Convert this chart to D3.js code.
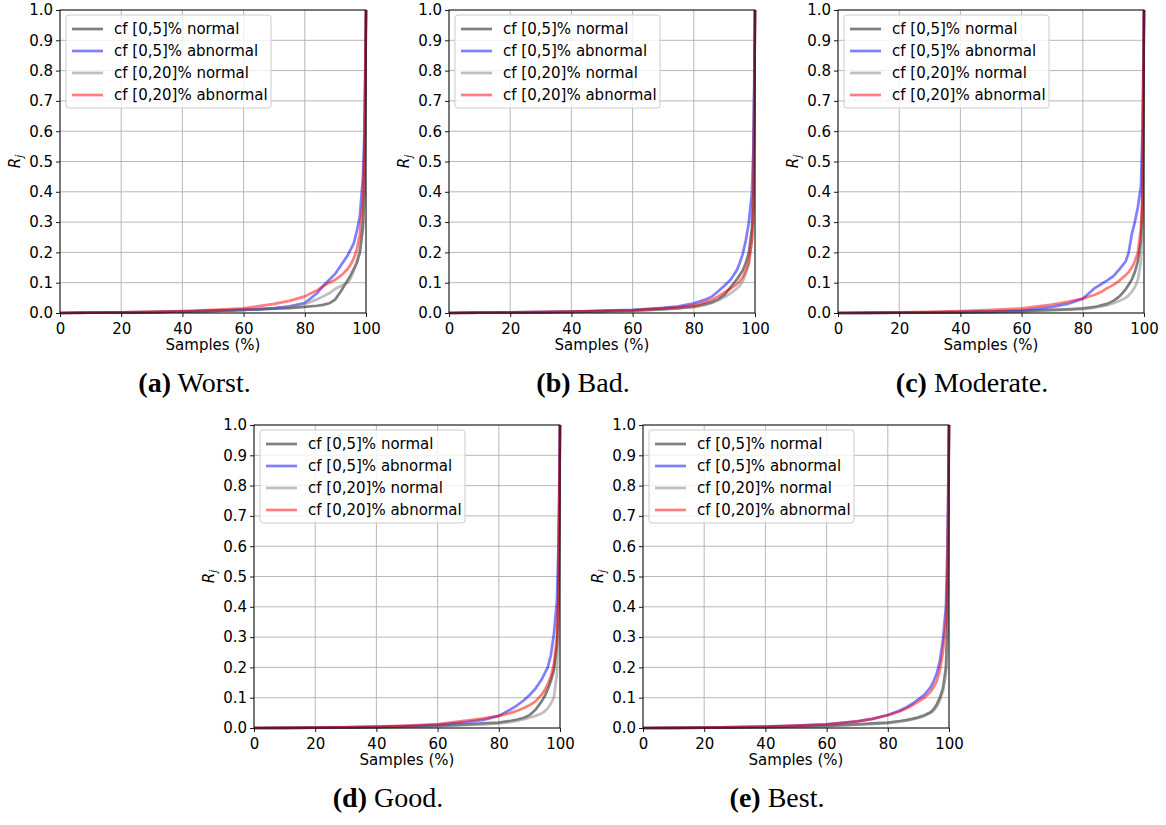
<!DOCTYPE html>
<html>
<head>
<meta charset="utf-8">
<script src="https://cdn.jsdelivr.net/npm/d3@7"></script>
<style>
  html, body { margin: 0; padding: 0; background: #fff; }
  svg { display: block; }
</style>
</head>
<body>
<svg id="fig" width="1166" height="825"></svg>
<script>
// Share of samples (%) at which each curve is sampled
const samplePct = [0, 10, 20, 30, 40, 50, 60, 70, 75, 80, 84, 86, 88, 90, 92, 94, 95, 96, 97, 98, 99, 99.5, 100];

const seriesNames = ["cf [0,5]% normal", "cf [0,5]% abnormal", "cf [0,20]% normal", "cf [0,20]% abnormal"];
const seriesColors = ["#000000", "#0000ff", "#808080", "#ff0000"];

const panelLabels = ["a", "b", "c", "d", "e"];
const panelTitles = ["Worst.", "Bad.", "Moderate.", "Good.", "Best."];

// R_j per panel, one row per series (same order as seriesNames)
const worstR = [
  [0, 0.001, 0.002, 0.003, 0.005, 0.007, 0.010, 0.014, 0.016, 0.020, 0.024, 0.027, 0.032, 0.045, 0.075, 0.108, 0.125, 0.145, 0.165, 0.20, 0.28, 0.40, 1],
  [0, 0.001, 0.002, 0.003, 0.005, 0.007, 0.010, 0.016, 0.022, 0.033, 0.065, 0.090, 0.110, 0.130, 0.160, 0.190, 0.210, 0.230, 0.270, 0.32, 0.45, 0.60, 1],
  [0, 0.001, 0.002, 0.003, 0.005, 0.007, 0.010, 0.016, 0.021, 0.030, 0.045, 0.055, 0.065, 0.080, 0.090, 0.100, 0.115, 0.140, 0.170, 0.21, 0.30, 0.45, 1],
  [0, 0.001, 0.002, 0.004, 0.006, 0.010, 0.015, 0.030, 0.040, 0.055, 0.075, 0.088, 0.100, 0.110, 0.125, 0.145, 0.160, 0.180, 0.210, 0.26, 0.38, 0.55, 1]
];
const badR = [
  [0, 0.001, 0.002, 0.003, 0.004, 0.006, 0.008, 0.013, 0.016, 0.021, 0.030, 0.036, 0.045, 0.060, 0.085, 0.110, 0.125, 0.140, 0.165, 0.20, 0.28, 0.40, 1],
  [0, 0.001, 0.002, 0.003, 0.005, 0.007, 0.010, 0.017, 0.022, 0.032, 0.045, 0.055, 0.072, 0.090, 0.110, 0.140, 0.165, 0.195, 0.240, 0.30, 0.40, 0.55, 1],
  [0, 0.001, 0.002, 0.003, 0.004, 0.005, 0.007, 0.012, 0.015, 0.019, 0.027, 0.033, 0.042, 0.052, 0.065, 0.080, 0.090, 0.105, 0.130, 0.16, 0.24, 0.35, 1],
  [0, 0.001, 0.002, 0.003, 0.005, 0.007, 0.009, 0.015, 0.019, 0.025, 0.036, 0.045, 0.055, 0.068, 0.080, 0.095, 0.105, 0.118, 0.140, 0.17, 0.24, 0.35, 1]
];
const moderateR = [
  [0, 0.0005, 0.001, 0.002, 0.003, 0.004, 0.006, 0.010, 0.012, 0.015, 0.020, 0.025, 0.030, 0.040, 0.055, 0.078, 0.093, 0.110, 0.135, 0.17, 0.24, 0.35, 1],
  [0, 0.0005, 0.001, 0.002, 0.003, 0.005, 0.008, 0.020, 0.030, 0.047, 0.083, 0.095, 0.108, 0.122, 0.145, 0.170, 0.200, 0.260, 0.300, 0.35, 0.42, 0.60, 1],
  [0, 0.0005, 0.001, 0.002, 0.003, 0.004, 0.005, 0.009, 0.011, 0.013, 0.018, 0.022, 0.026, 0.032, 0.040, 0.050, 0.058, 0.070, 0.085, 0.11, 0.17, 0.30, 1],
  [0, 0.001, 0.002, 0.004, 0.006, 0.010, 0.015, 0.028, 0.037, 0.048, 0.060, 0.070, 0.082, 0.093, 0.107, 0.125, 0.135, 0.150, 0.170, 0.20, 0.28, 0.40, 1]
];
const goodR = [
  [0, 0.0005, 0.001, 0.002, 0.003, 0.005, 0.007, 0.012, 0.015, 0.018, 0.024, 0.028, 0.033, 0.042, 0.060, 0.088, 0.105, 0.128, 0.155, 0.19, 0.27, 0.40, 1],
  [0, 0.0005, 0.001, 0.002, 0.004, 0.006, 0.010, 0.020, 0.027, 0.040, 0.062, 0.075, 0.090, 0.108, 0.130, 0.160, 0.180, 0.200, 0.240, 0.31, 0.42, 0.60, 1],
  [0, 0.0005, 0.001, 0.002, 0.003, 0.004, 0.006, 0.010, 0.012, 0.015, 0.020, 0.024, 0.028, 0.034, 0.040, 0.048, 0.055, 0.065, 0.080, 0.10, 0.18, 0.30, 1],
  [0, 0.0005, 0.001, 0.003, 0.005, 0.008, 0.013, 0.025, 0.032, 0.040, 0.050, 0.057, 0.065, 0.075, 0.088, 0.110, 0.125, 0.145, 0.170, 0.21, 0.30, 0.45, 1]
];
const bestR = [
  [0, 0.0005, 0.001, 0.002, 0.003, 0.005, 0.007, 0.012, 0.015, 0.018, 0.023, 0.026, 0.030, 0.035, 0.042, 0.052, 0.062, 0.078, 0.100, 0.13, 0.20, 0.35, 1],
  [0, 0.0005, 0.001, 0.003, 0.005, 0.008, 0.012, 0.022, 0.030, 0.043, 0.058, 0.068, 0.080, 0.095, 0.110, 0.135, 0.155, 0.180, 0.220, 0.29, 0.40, 0.60, 1],
  [0, 0.0005, 0.001, 0.002, 0.003, 0.004, 0.006, 0.011, 0.013, 0.016, 0.021, 0.024, 0.028, 0.033, 0.040, 0.050, 0.058, 0.070, 0.090, 0.12, 0.18, 0.30, 1],
  [0, 0.0005, 0.001, 0.003, 0.005, 0.008, 0.012, 0.022, 0.030, 0.042, 0.055, 0.064, 0.075, 0.087, 0.100, 0.120, 0.135, 0.155, 0.190, 0.25, 0.35, 0.50, 1]
];

const xTicks = [0, 20, 40, 60, 80, 100];
const yTicks = [0, 0.1, 0.2, 0.3, 0.4, 0.5, 0.6, 0.7, 0.8, 0.9, 1.0];

const panelData = [worstR, badR, moderateR, goodR, bestR];

// ---- layout ----
const W = 306, H = 303;
const origins = [[60, 10], [449, 10], [838, 10], [254, 425], [643, 425]];
const captionX = [194.5, 583, 972, 388, 777];
const captionY = [392, 392, 392, 807, 807];

const sansFont = "'DejaVu Sans', sans-serif";
const fs = 15;

const svg = d3.select("#fig");
const x = d3.scaleLinear().domain([0, 100]).range([0, W]);
const y = d3.scaleLinear().domain([0, 1]).range([H, 0]);
const line = d3.line().x((d, i) => x(samplePct[i])).y(d => y(d));

panelData.forEach((series, p) => {
  const [ox, oy] = origins[p];
  const g = svg.append("g").attr("transform", `translate(${ox},${oy})`);

  // grid
  g.append("g").selectAll("line").data(xTicks).join("line")
    .attr("x1", d => x(d)).attr("x2", d => x(d)).attr("y1", 0).attr("y2", H)
    .attr("stroke", "#b0b0b0").attr("stroke-width", 0.9);
  g.append("g").selectAll("line").data(yTicks).join("line")
    .attr("x1", 0).attr("x2", W).attr("y1", d => y(d)).attr("y2", d => y(d))
    .attr("stroke", "#b0b0b0").attr("stroke-width", 0.9);

  // curves
  series.forEach((vals, s) => {
    g.append("path").datum(vals)
      .attr("d", line)
      .attr("fill", "none")
      .attr("stroke", seriesColors[s])
      .attr("stroke-opacity", 0.5)
      .attr("stroke-width", 2.7)
      .attr("stroke-linejoin", "round");
  });

  // axes
  const xAxis = g.append("g").attr("transform", `translate(0,${H})`)
    .call(d3.axisBottom(x).tickValues(xTicks).tickFormat(d3.format("d")).tickSize(4).tickPadding(3));
  const yAxis = g.append("g")
    .call(d3.axisLeft(y).tickValues(yTicks).tickFormat(d3.format(".1f")).tickSize(4).tickPadding(3));
  [xAxis, yAxis].forEach(a => {
    a.select(".domain").remove();
    a.selectAll("line").attr("stroke", "#000").attr("stroke-width", 0.9);
    a.selectAll("text").attr("font-family", sansFont).attr("font-size", fs).attr("fill", "#000");
  });
  xAxis.selectAll("text").attr("dy", "0.92em");

  // frame
  g.append("rect").attr("x", 0).attr("y", 0).attr("width", W).attr("height", H)
    .attr("fill", "none").attr("stroke", "#000").attr("stroke-width", 0.9);

  // axis labels
  g.append("text")
    .attr("x", W / 2).attr("y", H + 37)
    .attr("text-anchor", "middle")
    .attr("font-family", sansFont).attr("font-size", fs)
    .text("Samples (%)");
  const yl = g.append("text")
    .attr("transform", `translate(-40,${H / 2}) rotate(-90)`)
    .attr("text-anchor", "middle")
    .attr("font-family", sansFont).attr("font-size", fs);
  yl.append("tspan").attr("font-style", "italic").text("R");
  yl.append("tspan").attr("font-style", "italic").attr("font-size", fs * 0.7).attr("dy", 3).text("j");

  // legend
  const lg = g.append("g").attr("transform", "translate(6,5)");
  lg.append("rect").attr("width", 205).attr("height", 93).attr("rx", 3)
    .attr("fill", "#fff").attr("fill-opacity", 0.8)
    .attr("stroke", "#cccccc").attr("stroke-width", 1);
  seriesNames.forEach((name, s) => {
    const ry = 14 + s * 22;
    lg.append("line").attr("x1", 6).attr("x2", 37).attr("y1", ry).attr("y2", ry)
      .attr("stroke", seriesColors[s]).attr("stroke-opacity", 0.5).attr("stroke-width", 2.7);
    lg.append("text").attr("x", 48).attr("y", ry).attr("dy", "0.35em")
      .attr("font-family", sansFont).attr("font-size", fs).text(name);
  });

  // caption
  const cap = svg.append("text")
    .attr("x", captionX[p]).attr("y", captionY[p])
    .attr("text-anchor", "middle")
    .attr("font-family", "'Liberation Serif', serif").attr("font-size", 28);
  cap.append("tspan").attr("font-weight", "bold").text(`(${panelLabels[p]})`);
  cap.append("tspan").text(" " + panelTitles[p]);
});
</script>
</body>
</html>
